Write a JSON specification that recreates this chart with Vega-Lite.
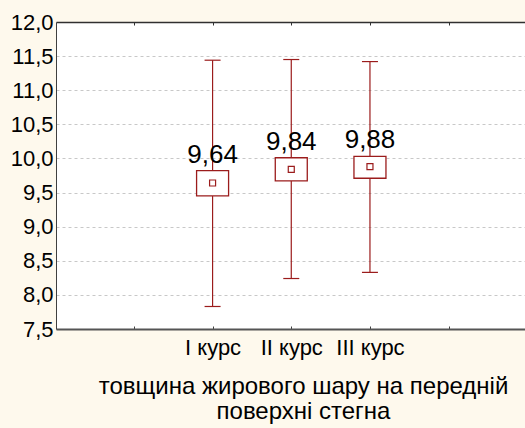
{
  "$schema": "https://vega.github.io/schema/vega-lite/v6.json",
  "width": 469,
  "height": 307,
  "autosize": {"type": "none"},
  "padding": {"left": 56, "top": 22, "right": 0, "bottom": 99},
  "background": "#FEF9ED",
  "view": {"fill": "white", "stroke": null},
  "config": {
    "font": "Liberation Sans",
    "axisY": {"labelFontSize": 22, "labelColor": "black", "labelPadding": 3, "labelOverlap": false, "labelBound": false, "ticks": false, "domain": true, "domainColor": "#404040", "domainWidth": 1, "grid": true, "gridColor": "#C8C8C8", "gridDash": [3, 3], "title": null, "labelFont": "Liberation Sans"}
  },
  "data": {
    "values": [
      {"course": "I курс", "lo": 7.83, "q1": 9.45, "mean": 9.64, "q3": 9.82, "hi": 11.44, "label": "9,64"},
      {"course": "II курс", "lo": 8.24, "q1": 9.67, "mean": 9.84, "q3": 10.01, "hi": 11.45, "label": "9,84"},
      {"course": "III курс", "lo": 8.33, "q1": 9.71, "mean": 9.88, "q3": 10.03, "hi": 11.42, "label": "9,88"}
    ]
  },
  "resolve": {"axis": {"x": "independent"}},
  "layer": [
    {
      "mark": {"type": "rule", "color": "#9B1C1C", "strokeWidth": 1.2},
      "encoding": {
        "x": {"field": "course", "type": "nominal", "scale": {"type": "point", "domain": [" ", "I курс", "II курс", "III курс", "  "], "padding": 0.98, "align": 0.505},
          "axis": {"orient": "bottom", "title": ["товщина жирового шару на передній", "поверхні стегна"], "titleFontSize": 24, "titleFontWeight": "normal", "titleColor": "black", "titleFont": "Liberation Sans", "titleX": 247, "titleY": 64, "titleBaseline": "alphabetic", "titleLineHeight": 25, "titleAlign": "center", "titleAnchor": null,
            "labelFontSize": 22, "labelColor": "black", "labelAngle": 0, "labelBaseline": "alphabetic", "labelPadding": 28, "labelFont": "Liberation Sans", "labelOverlap": false,
            "tickSize": -3, "tickColor": "#404040", "domainColor": "#555555", "domainWidth": 2, "grid": false}},
        "y": {"field": "lo", "type": "quantitative", "scale": {"domain": [7.5, 12], "nice": false, "zero": false},
          "axis": {"values": [7.5, 8, 8.5, 9, 9.5, 10, 10.5, 11, 11.5, 12], "labelOverlap": false, "labelExpr": "replace(format(datum.value, '.1f'), '.', ',')"}},
        "y2": {"field": "hi"}
      }
    },
    {
      "mark": {"type": "tick", "color": "#9B1C1C", "size": 16, "thickness": 1.2, "opacity": 1},
      "encoding": {
        "x": {"field": "course", "type": "nominal", "scale": {"type": "point", "domain": [" ", "I курс", "II курс", "III курс", "  "], "padding": 0.98, "align": 0.505},
          "axis": {"orient": "top", "title": null, "labels": false, "tickSize": -3, "tickColor": "#303030", "domainColor": "#303030", "domainWidth": 1.5, "grid": false}},
        "y": {"field": "lo", "type": "quantitative", "scale": {"domain": [7.5, 12], "nice": false, "zero": false},
          "axis": {"values": [7.5, 8, 8.5, 9, 9.5, 10, 10.5, 11, 11.5, 12], "labelOverlap": false, "labelExpr": "replace(format(datum.value, '.1f'), '.', ',')"}}
      }
    },
    {
      "mark": {"type": "tick", "color": "#9B1C1C", "size": 16, "thickness": 1.2, "opacity": 1},
      "encoding": {
        "x": {"field": "course", "type": "nominal", "scale": {"type": "point", "domain": [" ", "I курс", "II курс", "III курс", "  "], "padding": 0.98, "align": 0.505}, "axis": null},
        "y": {"field": "hi", "type": "quantitative", "scale": {"domain": [7.5, 12], "nice": false, "zero": false},
          "axis": {"values": [7.5, 8, 8.5, 9, 9.5, 10, 10.5, 11, 11.5, 12], "labelOverlap": false, "labelExpr": "replace(format(datum.value, '.1f'), '.', ',')"}}
      }
    },
    {
      "mark": {"type": "bar", "width": 32, "fill": "white", "stroke": "#9B1C1C", "strokeWidth": 1.3},
      "encoding": {
        "x": {"field": "course", "type": "nominal", "scale": {"type": "point", "domain": [" ", "I курс", "II курс", "III курс", "  "], "padding": 0.98, "align": 0.505}, "axis": null},
        "y": {"field": "q1", "type": "quantitative", "scale": {"domain": [7.5, 12], "nice": false, "zero": false},
          "axis": {"values": [7.5, 8, 8.5, 9, 9.5, 10, 10.5, 11, 11.5, 12], "labelOverlap": false, "labelExpr": "replace(format(datum.value, '.1f'), '.', ',')"}},
        "y2": {"field": "q3"}
      }
    },
    {
      "mark": {"type": "point", "shape": "square", "size": 36, "filled": false, "fill": "white", "stroke": "#9B1C1C", "strokeWidth": 1.2, "opacity": 1},
      "encoding": {
        "x": {"field": "course", "type": "nominal", "scale": {"type": "point", "domain": [" ", "I курс", "II курс", "III курс", "  "], "padding": 0.98, "align": 0.505}, "axis": null},
        "y": {"field": "mean", "type": "quantitative", "scale": {"domain": [7.5, 12], "nice": false, "zero": false},
          "axis": {"values": [7.5, 8, 8.5, 9, 9.5, 10, 10.5, 11, 11.5, 12], "labelOverlap": false, "labelExpr": "replace(format(datum.value, '.1f'), '.', ',')"}}
      }
    },
    {
      "mark": {"type": "text", "fontSize": 26, "dy": -8, "baseline": "alphabetic", "color": "black", "font": "Liberation Sans"},
      "encoding": {
        "x": {"field": "course", "type": "nominal", "scale": {"type": "point", "domain": [" ", "I курс", "II курс", "III курс", "  "], "padding": 0.98, "align": 0.505}, "axis": null},
        "y": {"field": "q3", "type": "quantitative", "scale": {"domain": [7.5, 12], "nice": false, "zero": false},
          "axis": {"values": [7.5, 8, 8.5, 9, 9.5, 10, 10.5, 11, 11.5, 12], "labelOverlap": false, "labelExpr": "replace(format(datum.value, '.1f'), '.', ',')"}},
        "text": {"field": "label"}
      }
    }
  ]
}
